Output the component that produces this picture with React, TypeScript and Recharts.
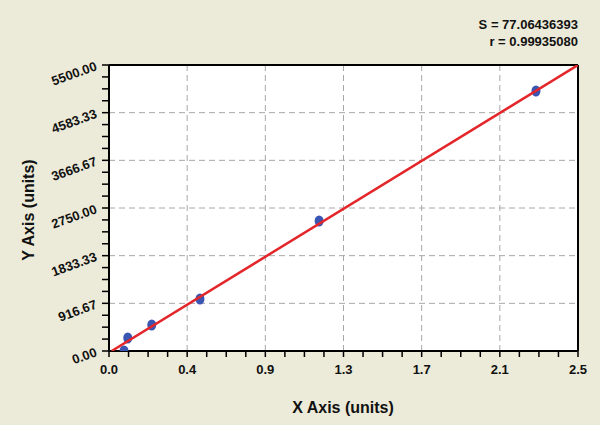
import React from 'react';
import { ScatterChart, Scatter, XAxis, YAxis, ReferenceLine, ReferenceArea } from 'recharts';

const xTickValues = [0, 0.416667, 0.833333, 1.25, 1.666667, 2.083333, 2.5];
const xTickLabels = ['0.0', '0.4', '0.9', '1.3', '1.7', '2.1', '2.5'];
const yTickValues = [0, 916.67, 1833.33, 2750, 3666.67, 4583.33, 5500];
const yTickLabels = ['0.00', '916.67', '1833.33', '2750.00', '3666.67', '4583.33', '5500.00'];

const pointX = [0.08, 0.1, 0.228, 0.485, 1.12, 2.276];
const pointY = [0, 250, 500, 1000, 2500, 5000];

const fitX = [0.014, 2.5];
const fitY = [0, 5500];

const statLines = ['S = 77.06436393', 'r = 0.99935080'];

const points = pointX.map((x, i) => ({ x, y: pointY[i] }));
const fitData = fitX.map((x, i) => ({ x, y: fitY[i] }));

const subdivide = (vals: number[], n: number) => {
  const out: number[] = [];
  for (let i = 0; i < vals.length - 1; i++) {
    for (let k = 0; k < n; k++) out.push(vals[i] + ((vals[i + 1] - vals[i]) * k) / n);
  }
  out.push(vals[vals.length - 1]);
  return out;
};
const xAllTicks = subdivide(xTickValues, 4);
const yAllTicks = subdivide(yTickValues, 4);

const FONT = '"Liberation Sans", Arial, sans-serif';

const XTick = (props: any) => {
  const { x, y, payload } = props;
  const idx = xTickValues.findIndex((v) => Math.abs(v - payload.value) < 1e-3);
  if (idx < 0) return <g />;
  return (
    <text x={x} y={y} dy={9} textAnchor="middle" fontSize={13} fontWeight="bold" fill="#111" fontFamily={FONT}>
      {xTickLabels[idx]}
    </text>
  );
};

const YTick = (props: any) => {
  const { x, y, payload } = props;
  const idx = yTickValues.findIndex((v) => Math.abs(v - payload.value) < 0.5);
  if (idx < 0) return <g />;
  return (
    <text
      x={x}
      y={y}
      dy={5}
      textAnchor="end"
      fontSize={13}
      fontWeight="bold"
      fill="#111"
      fontFamily={FONT}
      transform={`rotate(-20, ${x}, ${y})`}
    >
      {yTickLabels[idx]}
    </text>
  );
};

const Dot = (props: any) => <ellipse cx={props.cx} cy={props.cy} rx={4.5} ry={5.5} fill="#3A56B2" />;
const NoShape = () => <g />;

export default function App() {
  return (
    <div style={{ position: 'absolute', left: 0, top: 0, width: 600, height: 431, background: '#fff' }}>
      <ScatterChart
        width={600}
        height={425}
        margin={{ top: 65, right: 22, bottom: 0, left: 0 }}
        style={{ background: '#ECEAD8', fontFamily: FONT }}
      >
        <XAxis
          dataKey="x"
          type="number"
          domain={[0, 2.5]}
          ticks={xAllTicks}
          interval={0}
          height={74}
          tickSize={6}
          tickMargin={8}
          axisLine={{ stroke: '#000', strokeWidth: 2 }}
          tickLine={{ stroke: '#000', strokeWidth: 1.5 }}
          tick={<XTick />}
          allowDataOverflow
        />
        <YAxis
          dataKey="y"
          type="number"
          domain={[0, 5500]}
          ticks={yAllTicks}
          interval={0}
          width={109}
          tickSize={7}
          tickMargin={6}
          axisLine={{ stroke: '#000', strokeWidth: 2 }}
          tickLine={{ stroke: '#000', strokeWidth: 1.5 }}
          tick={<YTick />}
          allowDataOverflow
        />
        <ReferenceArea x1={0} x2={2.5} y1={0} y2={5500} fill="#fff" fillOpacity={1} stroke="none" />
        {xTickValues.slice(1, -1).map((v) => (
          <ReferenceLine key={'vx' + v} x={v} stroke="#A8A8A8" strokeDasharray="6 4" strokeWidth={1} />
        ))}
        {yTickValues.slice(1, -1).map((v) => (
          <ReferenceLine key={'hy' + v} y={v} stroke="#A8A8A8" strokeDasharray="6 4" strokeWidth={1} />
        ))}
        <ReferenceLine y={5500} stroke="#000" strokeWidth={2} />
        <ReferenceLine x={2.5} stroke="#000" strokeWidth={2} />
        <Scatter data={points} shape={<Dot />} isAnimationActive={false} />
        <Scatter
          data={fitData}
          line={{ stroke: '#E3262A', strokeWidth: 2.5 }}
          shape={<NoShape />}
          isAnimationActive={false}
        />
        <text x={578} y={29} textAnchor="end" fontSize={13} fontWeight="bold" fill="#111" fontFamily={FONT}>
          {statLines[0]}
        </text>
        <text x={578} y={46} textAnchor="end" fontSize={13} fontWeight="bold" fill="#111" fontFamily={FONT}>
          {statLines[1]}
        </text>
        <text x={343} y={413} textAnchor="middle" fontSize={16} fontWeight="bold" fill="#111" fontFamily={FONT}>
          X Axis (units)
        </text>
        <text
          x={34}
          y={210}
          textAnchor="middle"
          fontSize={16}
          fontWeight="bold"
          fill="#111"
          fontFamily={FONT}
          transform="rotate(-90, 34, 210)"
        >
          Y Axis (units)
        </text>
      </ScatterChart>
    </div>
  );
}
